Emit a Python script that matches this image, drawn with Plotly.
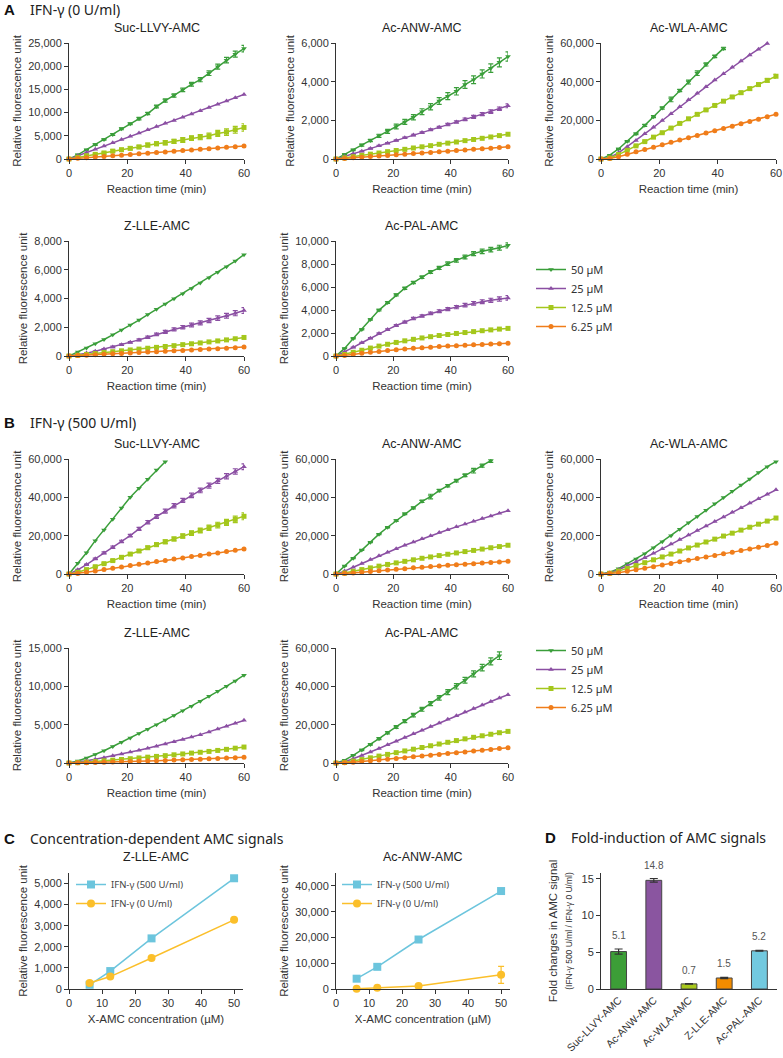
import plotly.graph_objects as go

W, H = 783, 1058

# ---------------- data ----------------
TIME_MIN = [0, 3, 6, 9, 12, 15, 18, 21, 24, 27, 30, 33, 36, 39, 42, 45, 48, 51, 54, 57, 60]
CONC_LABELS = ["50 µM", "25 µM", "12.5 µM", "6.25 µM"]
SUBSTRATES = ["Suc-LLVY-AMC", "Ac-ANW-AMC", "Ac-WLA-AMC", "Z-LLE-AMC", "Ac-PAL-AMC"]

# A: IFN-gamma 0 U/ml
A_SUC_50 = [0, 900, 2000, 3100, 4200, 5300, 6500, 7600, 8700, 9800, 11300, 12600, 13700, 14900, 16100, 17100, 18500, 19900, 21300, 22600, 23800]
A_SUC_50_ERR = [0, 100, 100, 150, 150, 200, 200, 200, 250, 250, 300, 350, 350, 400, 400, 450, 500, 550, 600, 650, 700]
A_SUC_25 = [0, 700, 1400, 2100, 2800, 3500, 4200, 4900, 5600, 6300, 7000, 7700, 8300, 9000, 9700, 10400, 11100, 11800, 12500, 13200, 13900]
A_SUC_12 = [0, 350, 700, 1000, 1300, 1700, 2000, 2300, 2600, 3000, 3300, 3500, 3800, 4100, 4500, 4700, 5000, 5500, 5800, 6300, 6800]
A_SUC_12_ERR = [0, 100, 150, 200, 250, 300, 300, 350, 350, 400, 400, 450, 450, 500, 500, 550, 600, 650, 700, 750, 800]
A_SUC_6 = [0, 140, 280, 420, 560, 700, 830, 970, 1110, 1250, 1390, 1530, 1670, 1810, 1950, 2090, 2230, 2380, 2520, 2660, 2800]

A_ANW_50 = [0, 230, 470, 720, 960, 1200, 1430, 1680, 1920, 2160, 2450, 2700, 3000, 3250, 3500, 3850, 4100, 4400, 4700, 5000, 5300]
A_ANW_50_ERR = [0, 30, 40, 50, 60, 80, 100, 120, 130, 140, 150, 160, 170, 180, 190, 200, 200, 210, 220, 230, 240]
A_ANW_25 = [0, 130, 270, 400, 540, 680, 820, 960, 1100, 1240, 1370, 1510, 1640, 1780, 1910, 2050, 2180, 2320, 2450, 2600, 2750]
A_ANW_25_ERR = [0, 10, 10, 15, 20, 20, 25, 30, 30, 40, 40, 50, 50, 60, 60, 70, 80, 80, 90, 90, 100]
A_ANW_12 = [0, 60, 120, 190, 250, 310, 380, 440, 500, 570, 630, 690, 760, 820, 880, 950, 1010, 1070, 1140, 1210, 1280]
A_ANW_6 = [0, 30, 60, 90, 125, 155, 185, 215, 250, 280, 310, 340, 375, 405, 435, 465, 500, 530, 560, 600, 640]

A_WLA_50 = [0, 2000, 5200, 9200, 13000, 17400, 21900, 26400, 30800, 35400, 39800, 44400, 48900, 53100, 57200, None, None, None, None, None, None]
A_WLA_50_ERR = [0, 200, 300, 300, 400, 500, 500, 600, 1200, 600, 1000, 1200, 800, 700, 600, 0, 0, 0, 0, 0, 0]
A_WLA_25 = [0, 800, 3200, 6400, 9600, 13000, 16400, 19900, 23400, 27000, 30600, 34000, 37400, 40800, 44100, 47400, 50700, 53800, 56800, 59800, None]
A_WLA_12 = [0, 500, 2300, 4500, 6800, 9000, 11300, 13600, 16000, 18400, 20800, 23100, 25400, 27700, 29900, 32100, 34300, 36400, 38500, 40700, 42800]
A_WLA_12_ERR = [0, 100, 100, 200, 200, 300, 300, 300, 400, 400, 400, 500, 500, 500, 600, 600, 700, 700, 800, 900, 1000]
A_WLA_6 = [0, 300, 1200, 2400, 3700, 4900, 6100, 7400, 8600, 9800, 11000, 12200, 13400, 14600, 15800, 17000, 18200, 19400, 20600, 21900, 23200]

A_ZLLE_50 = [0, 280, 560, 850, 1150, 1470, 1800, 2150, 2500, 2880, 3250, 3620, 3980, 4330, 4700, 5080, 5450, 5820, 6200, 6600, 7050]
A_ZLLE_25 = [0, 80, 200, 330, 480, 630, 790, 950, 1120, 1300, 1500, 1680, 1850, 2000, 2150, 2300, 2470, 2630, 2800, 2980, 3170]
A_ZLLE_25_ERR = [0, 10, 20, 30, 40, 50, 60, 60, 70, 80, 90, 100, 110, 120, 130, 140, 150, 160, 170, 180, 200]
A_ZLLE_12 = [0, 50, 110, 170, 240, 300, 360, 420, 480, 540, 600, 660, 720, 790, 850, 910, 980, 1050, 1120, 1200, 1290]
A_ZLLE_6 = [0, 30, 60, 90, 120, 150, 180, 210, 240, 270, 300, 330, 360, 390, 420, 450, 480, 510, 545, 580, 620]

A_PAL_50 = [0, 660, 1530, 2310, 3180, 3990, 4650, 5320, 5900, 6390, 6850, 7310, 7660, 8030, 8320, 8610, 8900, 9100, 9250, 9420, 9620]
A_PAL_50_ERR = [0, 30, 40, 50, 60, 70, 80, 90, 100, 100, 110, 120, 140, 150, 160, 170, 180, 190, 200, 210, 220]
A_PAL_25 = [0, 350, 750, 1150, 1550, 1950, 2300, 2650, 2950, 3250, 3480, 3700, 3900, 4080, 4250, 4420, 4580, 4720, 4840, 4950, 5050]
A_PAL_25_ERR = [0, 20, 30, 40, 50, 60, 70, 80, 90, 100, 100, 110, 120, 130, 140, 150, 160, 170, 180, 190, 200]
A_PAL_12 = [0, 130, 320, 500, 690, 860, 1020, 1180, 1320, 1450, 1570, 1680, 1780, 1870, 1960, 2040, 2120, 2200, 2270, 2340, 2400]
A_PAL_6 = [0, 50, 130, 230, 320, 400, 480, 550, 610, 670, 720, 770, 820, 860, 900, 940, 980, 1010, 1040, 1070, 1100]

# B: IFN-gamma 500 U/ml
B_SUC_50 = [0, 5600, 11100, 17400, 23000, 28500, 34400, 40000, 44700, 49400, 54300, 58600, None, None, None, None, None, None, None, None, None]
B_SUC_25 = [0, 2200, 4900, 7900, 11000, 14000, 17000, 20000, 23500, 27000, 30000, 32800, 35600, 38400, 41000, 43600, 46100, 48600, 51000, 53500, 56000]
B_SUC_25_ERR = [0, 200, 300, 400, 500, 600, 600, 700, 800, 900, 1000, 1000, 1100, 1100, 1200, 1200, 1300, 1300, 1400, 1400, 1500]
B_SUC_12 = [0, 900, 2300, 3800, 5400, 7000, 8700, 10400, 12000, 13700, 15300, 16800, 18300, 19800, 21300, 22700, 24100, 25500, 26900, 28500, 30100]
B_SUC_12_ERR = [0, 100, 200, 300, 400, 500, 600, 600, 700, 800, 900, 1000, 1000, 1100, 1200, 1300, 1400, 1500, 1600, 1700, 1800]
B_SUC_6 = [0, 300, 900, 1600, 2300, 3000, 3700, 4400, 5100, 5800, 6500, 7100, 7800, 8400, 9100, 9700, 10400, 11000, 11700, 12400, 13100]

B_ANW_50 = [0, 4200, 8200, 12500, 16600, 20800, 24400, 27900, 31400, 34500, 37900, 40400, 43500, 46100, 48700, 51500, 53900, 56500, 59100, None, None]
B_ANW_50_ERR = [0, 100, 200, 200, 300, 300, 300, 400, 400, 500, 600, 1200, 600, 600, 700, 700, 1200, 800, 900, 0, 0]
B_ANW_25 = [0, 1500, 3500, 5500, 7500, 9500, 11400, 13200, 15000, 16700, 18400, 20000, 21600, 23100, 24600, 26100, 27500, 28900, 30300, 31700, 33000]
B_ANW_12 = [0, 500, 1400, 2300, 3200, 4100, 5000, 5800, 6600, 7400, 8200, 8900, 9600, 10300, 11000, 11700, 12300, 13000, 13700, 14300, 15000]
B_ANW_6 = [0, 200, 500, 900, 1300, 1700, 2100, 2500, 2800, 3200, 3500, 3900, 4200, 4500, 4800, 5100, 5400, 5700, 6000, 6300, 6700]

B_WLA_50 = [0, 900, 2800, 5400, 7800, 10600, 13700, 16800, 19900, 23400, 26700, 30000, 33300, 36600, 39900, 43200, 46400, 49600, 52900, 56000, 58600]
B_WLA_25 = [0, 600, 2200, 4200, 6200, 8500, 10800, 13200, 15600, 18000, 20400, 22700, 25000, 27400, 29800, 32200, 34600, 37000, 39300, 41600, 43900]
B_WLA_12 = [0, 400, 1500, 2900, 4400, 5900, 7400, 8900, 10400, 12000, 13600, 15100, 16700, 18200, 19800, 21300, 22900, 24400, 26000, 27600, 29200]
B_WLA_6 = [0, 200, 700, 1400, 2200, 3000, 3800, 4700, 5500, 6400, 7200, 8100, 8900, 9700, 10600, 11400, 12200, 13100, 13900, 14900, 16000]

B_ZLLE_50 = [0, 250, 650, 1100, 1600, 2150, 2700, 3250, 3850, 4400, 5000, 5600, 6200, 6800, 7400, 8050, 8700, 9350, 10000, 10700, 11450]
B_ZLLE_25 = [0, 100, 280, 480, 700, 930, 1170, 1420, 1670, 1930, 2200, 2480, 2770, 3070, 3380, 3700, 4050, 4420, 4800, 5180, 5560]
B_ZLLE_12 = [0, 40, 110, 190, 280, 370, 460, 560, 660, 760, 860, 960, 1070, 1180, 1290, 1400, 1510, 1640, 1780, 1930, 2080]
B_ZLLE_6 = [0, 20, 40, 70, 100, 130, 160, 200, 230, 270, 300, 340, 380, 420, 460, 500, 550, 590, 640, 690, 740]

B_PAL_50 = [0, 1500, 4000, 6800, 9700, 12700, 15800, 18800, 21900, 25000, 28000, 31000, 34000, 37000, 40000, 43200, 46500, 49800, 53000, 56000, None]
B_PAL_50_ERR = [0, 100, 200, 300, 400, 500, 600, 700, 800, 900, 1000, 1100, 1200, 1300, 1400, 1500, 1600, 1700, 1800, 2000, 0]
B_PAL_25 = [0, 700, 2200, 3900, 5700, 7600, 9500, 11400, 13300, 15200, 17100, 19000, 20900, 22800, 24700, 26600, 28500, 30300, 32100, 33900, 35600]
B_PAL_12 = [0, 300, 1000, 1800, 2700, 3600, 4500, 5400, 6300, 7200, 8100, 9000, 9900, 10800, 11700, 12600, 13400, 14200, 15000, 15800, 16500]
B_PAL_6 = [0, 100, 400, 800, 1200, 1600, 2000, 2400, 2800, 3200, 3700, 4100, 4500, 4900, 5400, 5800, 6200, 6700, 7100, 7600, 8000]

# C: concentration-dependent AMC signals
C_CONC = [6.25, 12.5, 25, 50]
C_GROUPS = ["IFN-γ (500 U/ml)", "IFN-γ (0 U/ml)"]
C_ZLLE_500 = [200, 850, 2400, 5250]
C_ZLLE_0 = [280, 590, 1470, 3280]
C_ANW_500 = [4000, 8600, 19200, 38000]
C_ANW_0 = [100, 450, 1200, 5500]
C_ANW_0_ERR = [50, 100, 200, 3300]

# D: fold induction
D_FOLD = [5.1, 14.8, 0.7, 1.5, 5.2]
D_ERR = [0.35, 0.25, 0.03, 0.08, 0.05]

# ---------------- styling ----------------
SERIES_COLORS = ["#3a9e3a", "#8b4fa3", "#a4c71c", "#f07d1a"]
SERIES_SYMBOLS = ["triangle-down", "triangle-up", "square", "circle"]
D_COLORS = ["#3c9e37", "#8a55a0", "#a8c81c", "#f28c00", "#72c9df"]
C_COLORS = ["#6cc5dd", "#fbbf2a"]
C_SYMBOLS = ["square", "circle"]
FONT = "Liberation Sans, Arial, sans-serif"
HFONT = "Noto Sans, Liberation Sans, sans-serif"
AX = "#333333"

A_SERIES = {
    "Suc-LLVY-AMC": [(A_SUC_50, A_SUC_50_ERR), (A_SUC_25, None), (A_SUC_12, A_SUC_12_ERR), (A_SUC_6, None)],
    "Ac-ANW-AMC": [(A_ANW_50, A_ANW_50_ERR), (A_ANW_25, A_ANW_25_ERR), (A_ANW_12, None), (A_ANW_6, None)],
    "Ac-WLA-AMC": [(A_WLA_50, A_WLA_50_ERR), (A_WLA_25, None), (A_WLA_12, A_WLA_12_ERR), (A_WLA_6, None)],
    "Z-LLE-AMC": [(A_ZLLE_50, None), (A_ZLLE_25, A_ZLLE_25_ERR), (A_ZLLE_12, None), (A_ZLLE_6, None)],
    "Ac-PAL-AMC": [(A_PAL_50, A_PAL_50_ERR), (A_PAL_25, A_PAL_25_ERR), (A_PAL_12, None), (A_PAL_6, None)],
}
B_SERIES = {
    "Suc-LLVY-AMC": [(B_SUC_50, None), (B_SUC_25, B_SUC_25_ERR), (B_SUC_12, B_SUC_12_ERR), (B_SUC_6, None)],
    "Ac-ANW-AMC": [(B_ANW_50, B_ANW_50_ERR), (B_ANW_25, None), (B_ANW_12, None), (B_ANW_6, None)],
    "Ac-WLA-AMC": [(B_WLA_50, None), (B_WLA_25, None), (B_WLA_12, None), (B_WLA_6, None)],
    "Z-LLE-AMC": [(B_ZLLE_50, None), (B_ZLLE_25, None), (B_ZLLE_12, None), (B_ZLLE_6, None)],
    "Ac-PAL-AMC": [(B_PAL_50, B_PAL_50_ERR), (B_PAL_25, None), (B_PAL_12, None), (B_PAL_6, None)],
}
A_YMAX = [25000, 6000, 60000, 8000, 10000]
A_DTICK = [5000, 2000, 20000, 2000, 2000]
B_YMAX = [60000, 60000, 60000, 15000, 60000]
B_DTICK = [20000, 20000, 20000, 5000, 20000]

# pixel boxes (x0, x1, ytop, ybottom)
COLS = [(69, 244), (336, 508), (601, 776)]
ROWS = [(43, 159), (241, 356), (459, 574), (648, 763)]


def xd(x0, x1):
    return [x0 / W, x1 / W]


def yd(top, bot):
    return [1 - bot / H, 1 - top / H]


fig = go.Figure()
layout = {}
annotations = []


def axis_common():
    return dict(showline=True, linecolor=AX, linewidth=1, ticks="outside", ticklen=4,
                tickcolor=AX, tickwidth=1, showgrid=False, zeroline=False, automargin=False,
                tickfont=dict(family=FONT, size=11, color="#333"))


panel = 0
for block, series, ymaxs, dticks, rows in [("A", A_SERIES, A_YMAX, A_DTICK, (0, 1)),
                                           ("B", B_SERIES, B_YMAX, B_DTICK, (2, 3))]:
    for i, sub in enumerate(SUBSTRATES):
        panel += 1
        r = rows[0] if i < 3 else rows[1]
        c = i if i < 3 else i - 3
        xid = "x" if panel == 1 else f"x{panel}"
        yid = "y" if panel == 1 else f"y{panel}"
        xk = "xaxis" if panel == 1 else f"xaxis{panel}"
        yk = "yaxis" if panel == 1 else f"yaxis{panel}"
        xa = axis_common()
        xa.update(domain=xd(*COLS[c]), anchor=yid, range=[0, 60], tickvals=[0, 20, 40, 60],
                  title=dict(text="Reaction time (min)", font=dict(family=FONT, size=11.5, color="#333"), standoff=6))
        ya = axis_common()
        ya.update(domain=yd(*ROWS[r]), anchor=xid, range=[0, ymaxs[i]], dtick=dticks[i],
                  tickformat=",d",
                  title=dict(text="Relative fluorescence unit", font=dict(family=FONT, size=11.5, color="#333"), standoff=4))
        layout[xk] = xa
        layout[yk] = ya
        annotations.append(dict(text=sub, xref="paper", yref="paper",
                                x=(COLS[c][0] + COLS[c][1]) / 2 / W, y=1 - (ROWS[r][0] - 15) / H,
                                xanchor="center", yanchor="middle", showarrow=False,
                                font=dict(family=FONT, size=12.5, color="#222")))
        for k, (vals, err) in enumerate(series[sub]):
            tr = dict(x=TIME_MIN, y=vals, mode="lines+markers", name=CONC_LABELS[k],
                      xaxis=xid, yaxis=yid, cliponaxis=False,
                      line=dict(color=SERIES_COLORS[k], width=1.5),
                      marker=dict(symbol=SERIES_SYMBOLS[k], size=5, color=SERIES_COLORS[k]),
                      showlegend=(i == 0), legend="legend" if block == "A" else "legend2")
            if err is not None:
                tr["error_y"] = dict(type="data", array=err, visible=True, color=SERIES_COLORS[k],
                                     thickness=1.2, width=2.5)
            fig.add_trace(go.Scatter(**tr))

# ---- C panels ----
C_BOXES = [((69, 243), [0, 52.7], [0, 5500], 1000, "Z-LLE-AMC", [C_ZLLE_500, C_ZLLE_0], [None, None], "legend3"),
           ((336, 510), [0, 52.7], [0, 45000], 10000, "Ac-ANW-AMC", [C_ANW_500, C_ANW_0], [None, C_ANW_0_ERR], "legend4")]
for (xs, xr, yr, dt, sub, vals, errs, lg) in C_BOXES:
    panel += 1
    xid, yid = f"x{panel}", f"y{panel}"
    xa = axis_common()
    xa.update(domain=xd(*xs), anchor=yid, range=xr, dtick=10,
              title=dict(text="X-AMC concentration (µM)", font=dict(family=FONT, size=11.5, color="#333"), standoff=6))
    ya = axis_common()
    ya.update(domain=yd(873, 989), anchor=xid, range=yr, dtick=dt, tickformat=",d",
              title=dict(text="Relative fluorescence unit", font=dict(family=FONT, size=11.5, color="#333"), standoff=4))
    layout[f"xaxis{panel}"] = xa
    layout[f"yaxis{panel}"] = ya
    annotations.append(dict(text=sub, xref="paper", yref="paper", x=(xs[0] + xs[1]) / 2 / W,
                            y=1 - 857 / H, xanchor="center", yanchor="middle", showarrow=False,
                            font=dict(family=FONT, size=12.5, color="#222")))
    for k in range(2):
        tr = dict(x=C_CONC, y=vals[k], mode="lines+markers", name=C_GROUPS[k], xaxis=xid, yaxis=yid,
                  cliponaxis=False, line=dict(color=C_COLORS[k], width=1.5),
                  marker=dict(symbol=C_SYMBOLS[k], size=8, color=C_COLORS[k]), legend=lg)
        if errs[k] is not None:
            tr["error_y"] = dict(type="data", array=errs[k], color=C_COLORS[k], thickness=1.2, width=3)
        fig.add_trace(go.Scatter(**tr))

# ---- D panel ----
panel += 1
xid, yid = f"x{panel}", f"y{panel}"
xa = axis_common()
xa.update(domain=xd(601, 777), anchor=yid, type="category", range=[-0.5, 4.5], tickangle=-45,
          ticks="", tickfont=dict(family=FONT, size=10.5, color="#333"))
ya = axis_common()
ya.update(domain=yd(873, 989), anchor=xid, range=[0, 15.8], dtick=5,
          title=dict(text="Fold changes in AMC signal<br><span style='font-size:8.5px'>(IFN-γ 500 U/ml / IFN-γ 0 U/ml)</span>",
                     font=dict(family=FONT, size=11.5, color="#333"), standoff=6))
layout[f"xaxis{panel}"] = xa
layout[f"yaxis{panel}"] = ya
fig.add_trace(go.Bar(x=SUBSTRATES, y=D_FOLD, xaxis=xid, yaxis=yid, width=0.45, showlegend=False,
                     marker=dict(color=D_COLORS, line=dict(color="#444", width=1)),
                     error_y=dict(type="data", array=D_ERR, color="#333", thickness=1.2, width=4)))
for s, v, e in zip(SUBSTRATES, D_FOLD, D_ERR):
    annotations.append(dict(x=s, y=v + e, xref=xid, yref=yid, text=f"{v}", showarrow=False,
                            yanchor="bottom", yshift=6, font=dict(family=FONT, size=10, color="#555")))

# ---- headers ----
for letter, text, lx, tx, y in [("A", "IFN-γ (0 U/ml)", 2, 28, 10),
                                ("B", "IFN-γ (500 U/ml)", 2, 28, 423),
                                ("C", "Concentration-dependent AMC signals", 2, 28, 838),
                                ("D", "Fold-induction of AMC signals", 543, 569, 837)]:
    annotations.append(dict(text=f"<b>{letter}</b>", xref="paper", yref="paper", x=lx / W, y=1 - y / H,
                            xanchor="left", yanchor="middle", showarrow=False,
                            font=dict(family=FONT, size=15, color="#111")))
    annotations.append(dict(text=text, xref="paper", yref="paper", x=tx / W, y=1 - y / H,
                            xanchor="left", yanchor="middle", showarrow=False,
                            font=dict(family=HFONT, size=14, color="#222")))

leg_common = dict(xanchor="left", yanchor="top", bgcolor="rgba(0,0,0,0)", itemwidth=30,
                  tracegroupgap=0, font=dict(family=HFONT, size=11, color="#333"))
fig.update_layout(
    width=W, height=H, margin=dict(l=0, r=0, t=0, b=0, autoexpand=False), paper_bgcolor="white", plot_bgcolor="white",
    font=dict(family=FONT, color="#333"),
    legend=dict(x=531 / W, y=1 - 255 / H, **leg_common),
    legend2=dict(x=531 / W, y=1 - 636 / H, **leg_common),
    legend3=dict(x=71 / W, y=1 - 870 / H, **{**leg_common, "font": dict(family=HFONT, size=9.5, color="#444")}),
    legend4=dict(x=337 / W, y=1 - 870 / H, **{**leg_common, "font": dict(family=HFONT, size=9.5, color="#444")}),
    annotations=annotations,
    **layout,
)

fig.write_html("out.html", config={"displayModeBar": False},
               post_script="document.body.style.margin='0';document.body.style.overflow='hidden';")
